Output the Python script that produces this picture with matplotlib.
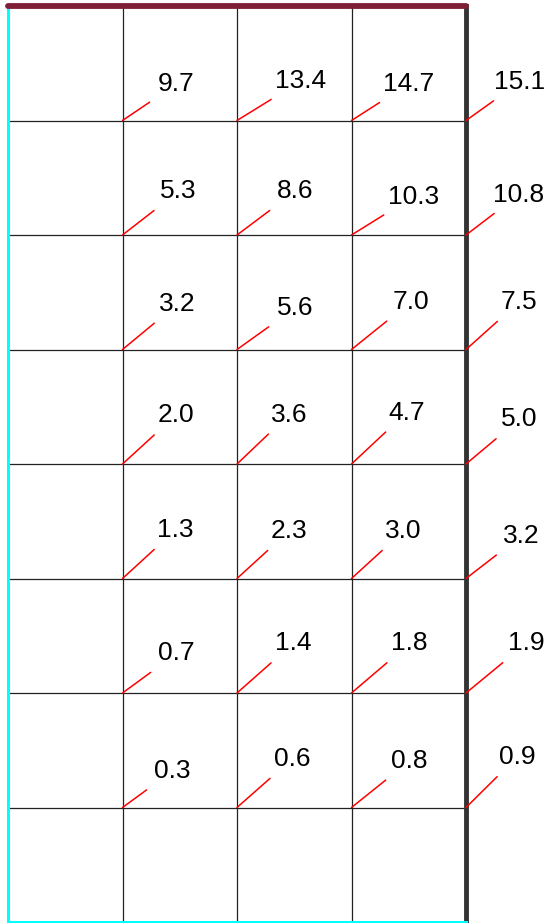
import matplotlib
matplotlib.use('Agg')
import matplotlib.pyplot as plt

plt.rcParams['font.family'] = ['Liberation Sans', 'DejaVu Sans']

# Grid intersections: columns 1..4, rows from top (y=7) to bottom (y=1)
col_pos = [1, 2, 3, 4]
row_pos = [7, 6, 5, 4, 3, 2, 1]

# Values shown at each intersection, one list per row (top to bottom)
row_values = [
    [9.7, 13.4, 14.7, 15.1],
    [5.3, 8.6, 10.3, 10.8],
    [3.2, 5.6, 7.0, 7.5],
    [2.0, 3.6, 4.7, 5.0],
    [1.3, 2.3, 3.0, 3.2],
    [0.7, 1.4, 1.8, 1.9],
    [0.3, 0.6, 0.8, 0.9],
]

# label offsets from the intersection (pixels, right / up)
label_offsets = [
    [(54, 39), (64, 42), (57, 39), (54, 41)],
    [(56, 46), (58, 46), (62, 41), (53, 43)],
    [(55, 48), (58, 44), (59, 50), (53, 50)],
    [(53, 51), (52, 52), (55, 54), (53, 47)],
    [(53, 51), (52, 50), (52, 50), (55, 45)],
    [(54, 42), (56, 52), (58, 52), (60, 52)],
    [(50, 39), (55, 51), (58, 49), (51, 53)],
]

fig = plt.figure(figsize=(5.5, 9.23), dpi=100)
ax = fig.add_axes([8 / 550, 1 / 923, 458 / 550, 916 / 923])
ax.set_xlim(0, 4)
ax.set_ylim(0, 8)

ax.set_xticks([1, 2, 3])
ax.set_yticks([1, 2, 3, 4, 5, 6, 7])
ax.tick_params(length=0, labelbottom=False, labelleft=False)
ax.grid(True, color='#222222', linewidth=0.9)

# borders
ax.spines['left'].set_color('#00ffff')
ax.spines['left'].set_linewidth(2.2)
ax.spines['bottom'].set_color('#00ffff')
ax.spines['bottom'].set_linewidth(2.2)
ax.spines['top'].set_color('#7e1f37')
ax.spines['top'].set_linewidth(4.2)
ax.spines['top'].set_capstyle('round')
ax.spines['right'].set_color('#333333')
ax.spines['right'].set_linewidth(3.5)

for r, y in enumerate(row_pos):
    for c, x in enumerate(col_pos):
        dx, dy = label_offsets[r][c]
        ax.annotate(f'{row_values[r][c]:.1f}', xy=(x, y),
                    xytext=(dx, dy), textcoords='offset pixels',
                    ha='center', va='center_baseline', fontsize=19,
                    color='black', annotation_clip=False,
                    arrowprops=dict(arrowstyle='-', color='red',
                                    linewidth=1.1, shrinkA=5, shrinkB=0))

fig.savefig('out.png', dpi=100)
